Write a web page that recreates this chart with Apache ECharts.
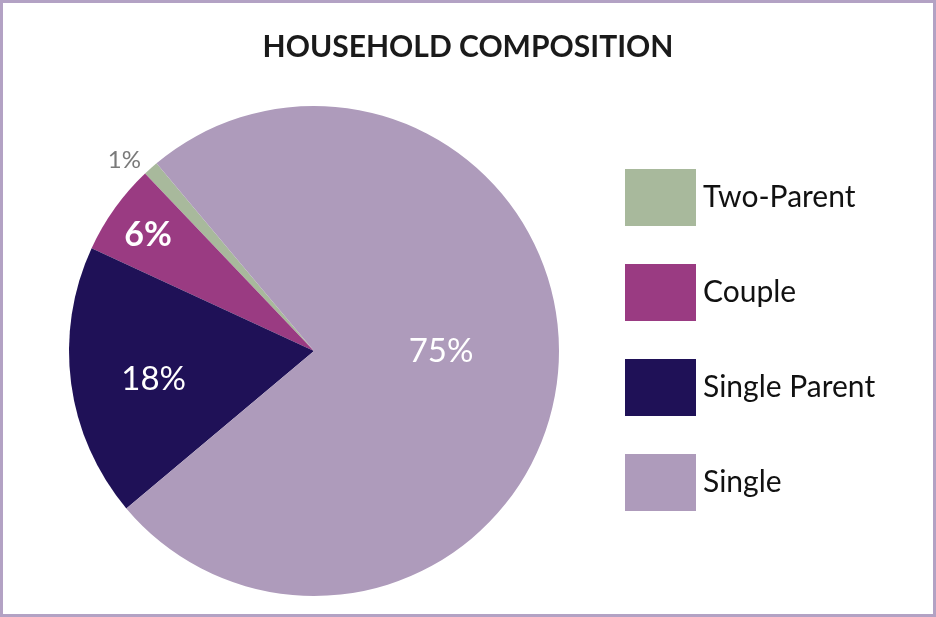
<!DOCTYPE html>
<html>
<head>
<meta charset="utf-8">
<script src="https://cdn.jsdelivr.net/npm/echarts@6/dist/echarts.min.js"></script>
<style>
  html, body { margin: 0; padding: 0; background: #fff; }
  #chart { width: 936px; height: 617px; box-sizing: border-box; border: 3px solid #b3a2c4; }
</style>
</head>
<body>
<div id="chart"></div>
<script>
let categories = ['Two-Parent', 'Couple', 'Single Parent', 'Single'];
let values = [1, 6, 18, 75];
let colors = ['#a8b99c', '#9a3b82', '#1f1157', '#ae9bbb'];
// label nudges so the numbers sit where the original puts them
let labelOffsets = [[-106, -97], [-64, -43], [-36, 12], [2, -11]];

window.onload = function() {
    let myChart = echarts.init(document.getElementById('chart'));

    let pieData = categories.map(function(name, i) {
        let item = {
            name: name,
            value: values[i],
            itemStyle: { color: colors[i] },
            label: { offset: labelOffsets[i] }
        };
        if (i === 0) {
            item.label.color = '#7a7a7a';
            item.label.fontSize = 24;
            item.label.fontWeight = 'normal';
        }
        if (i === 1) {
            item.label.fontWeight = 'bold';
            item.label.fontSize = 34;
        }
        return item;
    });

    let option = {
        animation: false,
        title: {
            text: 'HOUSEHOLD COMPOSITION',
            left: 'center',
            top: 24,
            textStyle: {
                fontFamily: 'Lato',
                fontSize: 30,
                fontWeight: 'bold',
                color: '#1a1a1a'
            }
        },
        legend: {
            orient: 'vertical',
            left: 617,
            top: 161,
            data: categories,
            icon: 'rect',
            itemWidth: 71,
            itemHeight: 57,
            itemGap: 38,
            selectedMode: false,
            textStyle: {
                fontFamily: 'Lato',
                fontSize: 30,
                color: '#111',
                padding: [0, 0, 0, 2]
            }
        },
        series: [
            {
                type: 'pie',
                center: [311, 348],
                radius: 245,
                startAngle: 130,
                clockwise: false,
                data: pieData,
                label: {
                    show: true,
                    position: 'inside',
                    formatter: '{c}%',
                    color: '#fff',
                    fontFamily: 'Lato',
                    fontSize: 33
                },
                labelLine: { show: false },
                emphasis: { disabled: true }
            }
        ]
    };
    myChart.setOption(option);
}
</script>
</body>
</html>
